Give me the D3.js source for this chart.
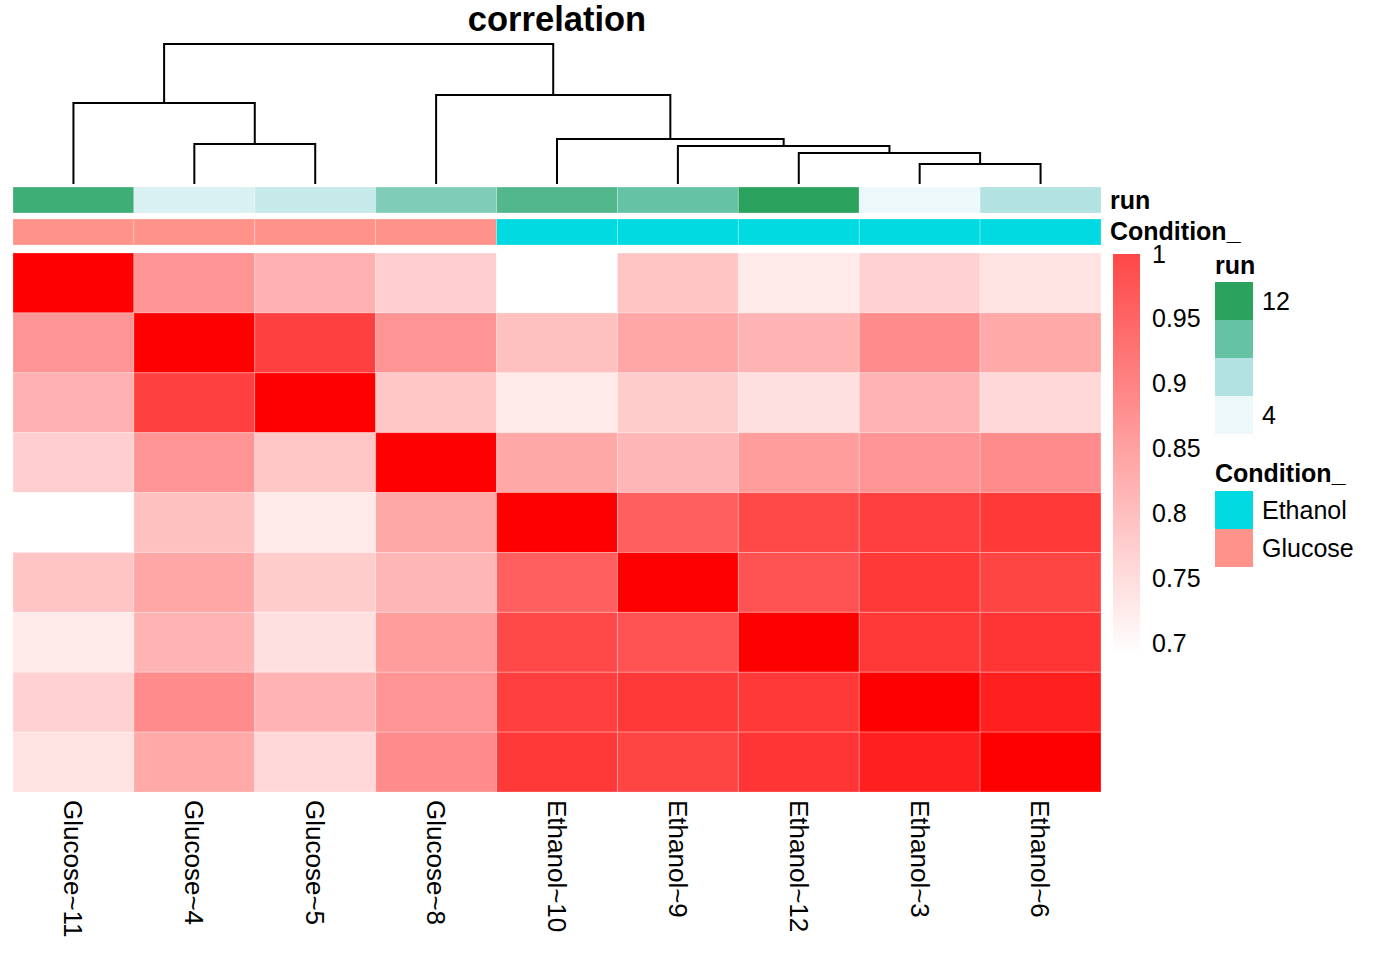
<!DOCTYPE html>
<html>
<head>
<meta charset="utf-8">
<script src="https://cdn.jsdelivr.net/npm/d3@7"></script>
<style>
  body { margin: 0; background: #fff; }
  svg { font-family: "Liberation Sans", Arial, Helvetica, sans-serif; }
</style>
</head>
<body>
<div id="graf"></div>
<script>
// I. Datos
const muestras = ['Glucose~11', 'Glucose~4', 'Glucose~5', 'Glucose~8',
                  'Ethanol~10', 'Ethanol~9', 'Ethanol~12', 'Ethanol~3', 'Ethanol~6']
const condicion = ['Glucose', 'Glucose', 'Glucose', 'Glucose',
                   'Ethanol', 'Ethanol', 'Ethanol', 'Ethanol', 'Ethanol']
const run = [11, 4, 5, 8, 10, 9, 12, 3, 6]

// matriz de correlación, filas y columnas en el orden de "muestras"
const correlacion = [
  [1.000, 0.821, 0.787, 0.750, 0.692, 0.763, 0.718, 0.747, 0.727],
  [0.821, 1.000, 0.923, 0.821, 0.768, 0.799, 0.783, 0.831, 0.796],
  [0.787, 0.923, 1.000, 0.761, 0.718, 0.754, 0.730, 0.784, 0.738],
  [0.750, 0.821, 0.761, 1.000, 0.797, 0.780, 0.812, 0.821, 0.831],
  [0.692, 0.768, 0.718, 0.797, 1.000, 0.885, 0.913, 0.925, 0.932],
  [0.763, 0.799, 0.754, 0.780, 0.885, 1.000, 0.901, 0.932, 0.918],
  [0.718, 0.783, 0.730, 0.812, 0.913, 0.901, 1.000, 0.932, 0.937],
  [0.747, 0.831, 0.784, 0.821, 0.925, 0.932, 0.932, 1.000, 0.962],
  [0.727, 0.796, 0.738, 0.831, 0.932, 0.918, 0.937, 0.962, 1.000]
]

// fusiones del clustering: [hijo A, hijo B, altura]; texto = hoja, número = fusión previa
const fusiones = [
  ['Glucose~4', 'Glucose~5', 0.40],
  ['Glucose~11', 0, 0.81],
  ['Ethanol~3', 'Ethanol~6', 0.20],
  ['Ethanol~12', 2, 0.31],
  ['Ethanol~9', 3, 0.38],
  ['Ethanol~10', 4, 0.45],
  ['Glucose~8', 5, 0.89],
  [1, 6, 1.40]
]

const corrRango = [0.692, 1]
const corrTicks = [0.7, 0.75, 0.8, 0.85, 0.9, 0.95, 1]

const runBreaks = [3, 6, 9, 12]
const runColores = ['#EDF8FB', '#B2E2E2', '#66C2A4', '#2CA25F']
const runLeyendaValores = [12, 9, 6, 3]
const runLeyendaEtiquetas = ['12', '', '', '4']

const condNiveles = ['Ethanol', 'Glucose']
const condColores = ['#00DAE0', '#FF9289']

// II. Configuración
const ancho_total = 1400
const alto_total = 960

const svg = d3.select('#graf').append('svg')
              .attr('width', ancho_total)
              .attr('height', alto_total)

const x = d3.scaleBand()
            .domain(muestras)
            .range([13, 1101])
const y = d3.scaleBand()
            .domain(muestras)
            .range([253, 792])

const color = d3.scaleLinear()
                .domain(corrRango)
                .range(['#FFFFFF', '#FF0000'])
                .interpolate(d3.interpolateRgb)

const colorRun = d3.scaleLinear()
                   .domain(runBreaks)
                   .range(runColores)
                   .interpolate(d3.interpolateRgb)

const colorCond = d3.scaleOrdinal()
                    .domain(condNiveles)
                    .range(condColores)

const yDendro = d3.scaleLinear()
                  .domain([0, d3.max(fusiones, d => d[2])])
                  .range([184, 44])

// III. Título
svg.append('text')
   .attr('x', (x.range()[0] + x.range()[1]) / 2)
   .attr('y', 31)
   .attr('text-anchor', 'middle')
   .style('font-size', '34.5px')
   .style('font-weight', 'bold')
   .text('correlation')

// IV. Dendrograma
const nodos = []
const hijo = c => typeof c === 'string'
  ? { x: x(c) + x.bandwidth() / 2, h: 0 }
  : nodos[c]

fusiones.forEach(([a, b, h]) => {
  const ca = hijo(a), cb = hijo(b)
  nodos.push({ x: (ca.x + cb.x) / 2, h: h, a: ca, b: cb })
})

svg.append('g')
   .selectAll('path')
   .data(nodos)
   .join('path')
     .attr('d', d => `M${d.a.x},${yDendro(d.a.h)}V${yDendro(d.h)}H${d.b.x}V${yDendro(d.b.h)}`)
     .attr('fill', 'none')
     .attr('stroke', '#000')
     .attr('stroke-width', 2)

// V. Anotaciones
const anot = svg.append('g')

anot.selectAll('rect.run')
    .data(muestras)
    .join('rect')
      .attr('class', 'run')
      .attr('x', d => x(d))
      .attr('y', 187)
      .attr('width', x.bandwidth())
      .attr('height', 26)
      .attr('fill', (d, i) => colorRun(run[i]))
      .attr('stroke', '#fff')
      .attr('stroke-opacity', 0.25)

anot.selectAll('rect.cond')
    .data(muestras)
    .join('rect')
      .attr('class', 'cond')
      .attr('x', d => x(d))
      .attr('y', 219)
      .attr('width', x.bandwidth())
      .attr('height', 26)
      .attr('fill', (d, i) => colorCond(condicion[i]))
      .attr('stroke', '#fff')
      .attr('stroke-opacity', 0.25)

anot.selectAll('text')
    .data([['run', 200], ['Condition_', 231]])
    .join('text')
      .attr('x', 1110)
      .attr('y', d => d[1])
      .attr('dy', '0.35em')
      .style('font-size', '25px')
      .style('font-weight', 'bold')
      .text(d => d[0])

// VI. Heatmap
const celdas = correlacion.flatMap((fila, i) =>
  fila.map((v, j) => ({ fila: muestras[i], col: muestras[j], v: v })))

svg.append('g')
   .selectAll('rect')
   .data(celdas)
   .join('rect')
     .attr('x', d => x(d.col))
     .attr('y', d => y(d.fila))
     .attr('width', x.bandwidth())
     .attr('height', y.bandwidth())
     .attr('fill', d => color(d.v))
     .attr('stroke', '#fff')
     .attr('stroke-opacity', 0.25)

const xAxisGroup = svg.append('g')
                      .attr('transform', `translate(0, ${y.range()[1]})`)
xAxisGroup.call(d3.axisBottom(x).tickSize(0))
xAxisGroup.select('.domain').remove()
xAxisGroup.selectAll('text')
          .attr('transform', 'rotate(90)')
          .attr('x', 8)
          .attr('y', 0)
          .attr('dy', '0.35em')
          .attr('text-anchor', 'start')
          .attr('fill', '#000')
          .style('font-size', '26px')
          .style('font-family', '"Liberation Sans", Arial, sans-serif')

// VII. Leyendas
const yLeyenda = d3.scaleLinear()
                   .domain(corrRango)
                   .range([654, 254])

const grad = svg.append('defs').append('linearGradient')
                .attr('id', 'gradCorr')
                .attr('x1', 0).attr('y1', 1)
                .attr('x2', 0).attr('y2', 0)
grad.selectAll('stop')
    .data(d3.range(0, 1.001, 0.1))
    .join('stop')
      .attr('offset', d => d)
      .attr('stop-color', d => color(corrRango[0] + d * (corrRango[1] - corrRango[0])))

svg.append('rect')
   .attr('x', 1113)
   .attr('y', yLeyenda(corrRango[1]))
   .attr('width', 27)
   .attr('height', yLeyenda(corrRango[0]) - yLeyenda(corrRango[1]))
   .attr('fill', 'url(#gradCorr)')
   .attr('opacity', 0.72)

const yLegGroup = svg.append('g')
                     .attr('transform', 'translate(1140, 0)')
yLegGroup.call(d3.axisRight(yLeyenda).tickValues(corrTicks).tickSize(0).tickPadding(12).tickFormat(d => String(d)))
yLegGroup.select('.domain').remove()
yLegGroup.selectAll('text')
         .attr('fill', '#000')
         .style('font-size', '25px')
         .style('font-family', '"Liberation Sans", Arial, sans-serif')

function leyendaDiscreta(titulo, tituloY, top, colores, etiquetas) {
  const lg = svg.append('g')
  lg.append('text')
    .attr('x', 1215)
    .attr('y', tituloY)
    .attr('dy', '0.35em')
    .style('font-size', '25px')
    .style('font-weight', 'bold')
    .text(titulo)
  lg.selectAll('rect')
    .data(colores)
    .join('rect')
      .attr('x', 1215)
      .attr('y', (d, i) => top + i * 38)
      .attr('width', 38)
      .attr('height', 38)
      .attr('fill', d => d)
  lg.selectAll('text.etq')
    .data(etiquetas)
    .join('text')
      .attr('class', 'etq')
      .attr('x', 1262)
      .attr('y', (d, i) => top + i * 38 + 19)
      .attr('dy', '0.35em')
      .style('font-size', '25px')
      .text(d => d)
}

leyendaDiscreta('run', 265, 282, runLeyendaValores.map(colorRun), runLeyendaEtiquetas)
leyendaDiscreta('Condition_', 473, 491, condNiveles.map(colorCond), condNiveles)
</script>
</body>
</html>
